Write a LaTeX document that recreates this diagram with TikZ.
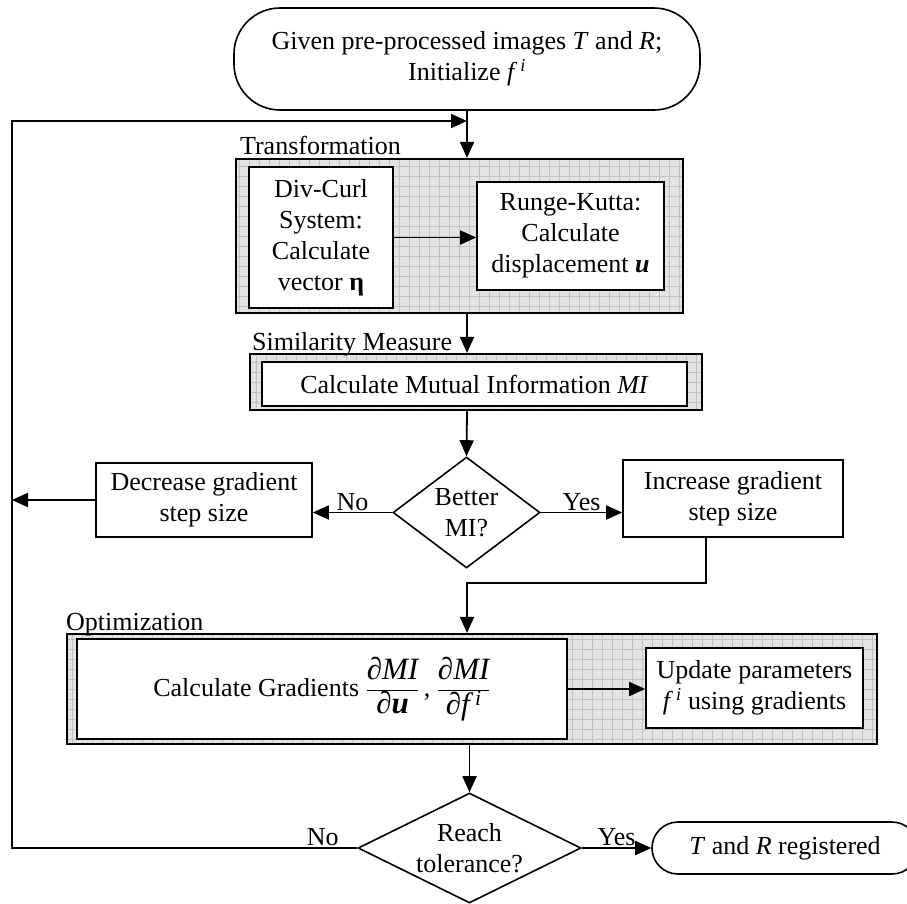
\documentclass[tikz,border=0pt]{standalone}
\usepackage{fontspec}
\setmainfont{Liberation Serif}
\usepackage{tikz}
\usetikzlibrary{positioning,arrows.meta,shapes.geometric,calc}
\newcommand{\grd}[2]{\displaystyle\frac{\mbox{∂#1}}{\mbox{∂#2}}}

\begin{document}
\begin{tikzpicture}[x=1pt,y=-1pt,
	>={Triangle[length=16pt,width=14pt]},
	txt/.style={font=\fontsize{26}{31}\selectfont, align=center},
	box/.style={txt, draw, line width=1.6pt, fill=white, inner sep=2pt},
	term/.style={txt, draw, line width=1.6pt, fill=white},
	decide/.style={txt, draw, line width=1.6pt, diamond, inner sep=0pt, fill=white},
	grp/.style={draw, line width=2.2pt, inner sep=0pt, fill=black!11,
		path picture={\draw [black!24, line width=0.8pt, step=10pt]
			(path picture bounding box.south west) grid (path picture bounding box.north east);}},
	grplbl/.style={txt, anchor=base west, inner sep=0pt},
	lbl/.style={txt, above, inner sep=1pt},
	flow/.style={->, line width=1.8pt}]
\useasboundingbox (0,0) rectangle (907,903);

\node [term, rounded corners=46pt, minimum width=466pt, minimum height=102pt] (start) at (467,59)
	{Given pre-processed images \textit{T} and \textit{R};\\ Initialize \textit{f}\textsuperscript{\,\textit{i}}};

% transformation
\node [grp, minimum width=447pt, minimum height=154pt] (trans) at (459.5,236) {};
\node [grplbl] (translbl) at ([xshift=5pt,yshift=3pt]trans.north west) {Transformation};
\node [box, minimum width=144pt, minimum height=141pt] (divcurl) at (321,237.5)
	{Div-Curl\\ System:\\ Calculate\\ vector \textbf{η}};
\node [box, minimum width=187pt, minimum height=108pt] (rk) at (570.5,236)
	{Runge-Kutta:\\ Calculate\\ displacement \textbf{\textit{u}}};

% similarity measure
\node [grp, minimum width=452pt, minimum height=56pt] (sim) at (476,382) {};
\node [grplbl] (simlbl) at ([xshift=3pt,yshift=2pt]sim.north west) {Similarity Measure};
\node [box, minimum width=425pt, minimum height=44pt] (mi) at (474.5,384)
	{Calculate Mutual Information \textit{MI}};

% step size
\node [decide, minimum width=147pt, minimum height=111pt, aspect=1.32] (better) at (466.5,512.5) {Better\\ MI?};
\node [box, minimum width=216pt, minimum height=74pt] (decr) at (204,500) {Decrease gradient\\ step size};
\node [box, minimum width=220pt, minimum height=77pt] (incr) at (733,498.5) {Increase gradient\\ step size};

% optimization
\node [grp, minimum width=810pt, minimum height=110pt] (opt) at (472,689) {};
\node [grplbl] (optlbl) at ([yshift=2pt]opt.north west) {Optimization};
\node [box, minimum width=490pt, minimum height=100pt] (grad) at (322,689)
	{Calculate Gradients {\fontsize{31}{36}\selectfont$\grd{\itshape MI}{\bfseries\itshape u}$}\,, {\fontsize{31}{36}\selectfont$\grd{\itshape MI}{\itshape f\,\textsuperscript{i}}$}};
\node [box, minimum width=217pt, minimum height=80pt] (upd) at (754.5,688)
	{Update parameters\\ \textit{f}\textsuperscript{\,\textit{i}} using gradients};

% stop test
\node [decide, minimum width=223pt, minimum height=110pt, aspect=2.06] (tol) at (469.5,848) {Reach\\ tolerance?};
\node [term, rounded corners=26pt, minimum width=266pt, minimum height=52pt] (done) at (785,848)
	{\textit{T} and \textit{R} registered};

\coordinate (back) at (12,121);
\coordinate (mrg) at (467,583);

\draw [flow] (start.south) -- (start.south |- trans.north);
\draw [flow] (divcurl.east) -- (divcurl.east -| rk.west);
\draw [flow] (start.south |- trans.south) -- (start.south |- sim.north);
\draw [flow] (start.south |- sim.south) -- (better.north);
\draw [flow] (better.west) -- node [lbl] (no1) {No} (better.west -| decr.east);
\draw [flow] (better.east) -- node [lbl] (yes1) {Yes} (better.east -| incr.west);
\draw [flow] (decr.west) -- (decr.west -| back);
\draw [flow] ([xshift=-27pt]incr.south) |- (mrg) -- (mrg |- opt.north);
\draw [flow] (grad.east) -- (grad.east -| upd.west);
\draw [flow] (opt.south -| tol.north) -- (tol.north);
\draw [flow] (tol.east) -- node [lbl] (yes2) {Yes} (tol.east -| done.west);
\draw [flow] (tol.west) -- node [lbl, pos=0.1] (no2) {No} (tol.west -| back) -- (back) -- (back -| start.south);
\end{tikzpicture}
\end{document}
